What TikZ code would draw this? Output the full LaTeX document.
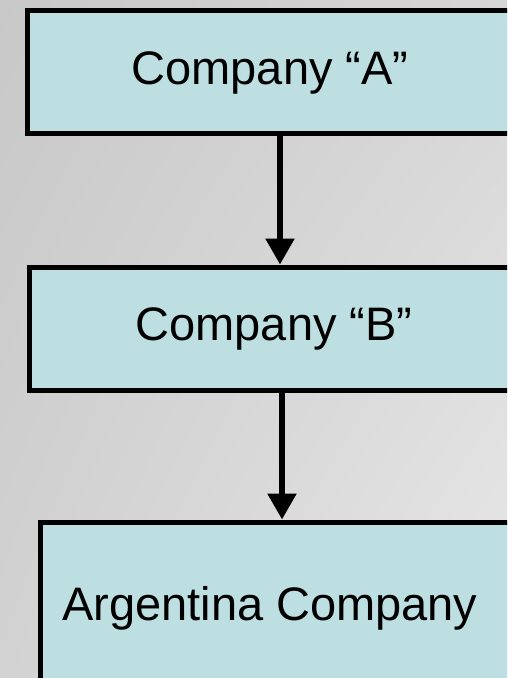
\documentclass[tikz,border=0pt]{standalone}
\usepackage{fontspec}
\setmainfont{Liberation Sans}
\usetikzlibrary{arrows.meta,shadings}

\definecolor{boxfill}{HTML}{BDDFE1}
\definecolor{bgA}{HTML}{C8C8C8}
\definecolor{bgB}{HTML}{D6D6D6}
\definecolor{bgC}{HTML}{D2D2D2}
\definecolor{bgD}{HTML}{E8E8E8}

\tikzset{
  company/.style={draw=black, fill=boxfill, line width=5pt, rectangle,
    inner sep=0pt, anchor=north west},
  boxlabel/.style={font=\fontsize{47}{56}\selectfont, text=black, inner sep=0pt},
  flow/.style={line width=5.5pt, -{Triangle[width=28pt,length=26pt]}}
}

\begin{document}
\begin{tikzpicture}[x=1pt, y=-1pt]
  % canvas and soft grey background
  \useasboundingbox (0,0) rectangle (507,678);
  \clip (0,0) rectangle (507,678);
  \shade[upper left=bgA, upper right=bgB, lower left=bgC, lower right=bgD]
    (0,0) rectangle (507,678);

  % the three companies, running off the right (and lower) edge
  \node[company, minimum width=506pt, minimum height=123pt] (boxA) at (24.5,7.5) {};
  \node[company, minimum width=506pt, minimum height=123pt] (boxB) at (26.5,264.5) {};
  \node[company, minimum width=486pt, minimum height=220pt] (boxC) at (37.5,519.5) {};

  \node[boxlabel] (labA) at ([xshift=-10pt,yshift=-1pt]boxA.center) {Company “A”};
  \node[boxlabel] (labB) at ([xshift=-8pt]boxB.center) {Company “B”};
  \node[boxlabel, anchor=base west] (labC) at (62,620) {Argentina Company};

  % ownership chain, straight down from each box
  \draw[flow] (boxA.south) -- (boxA.south |- boxB.north);
  \draw[flow] (boxB.south) -- (boxB.south |- boxC.north);
\end{tikzpicture}
\end{document}
